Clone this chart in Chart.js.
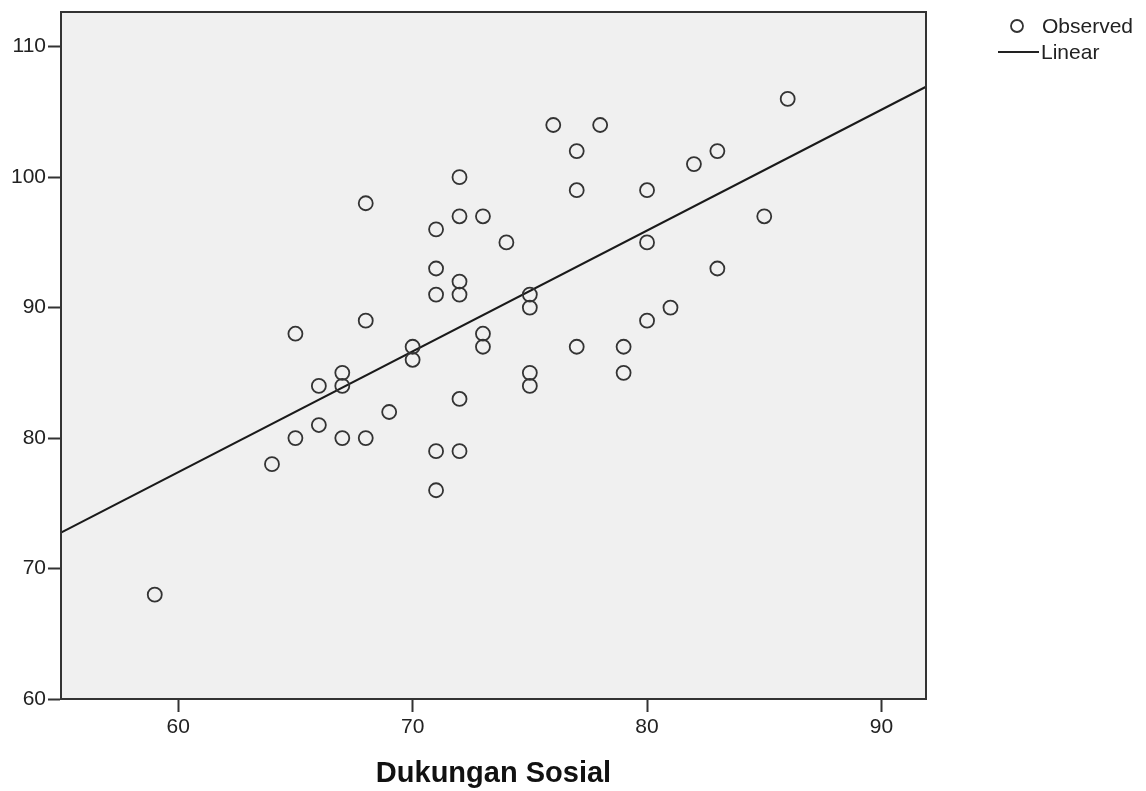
<!DOCTYPE html>
<html>
<head>
<meta charset="utf-8">
<script src="https://cdn.jsdelivr.net/npm/chart.js@4/dist/chart.umd.min.js"></script>
<style>
  html, body { margin: 0; padding: 0; background: #ffffff; }
  canvas { display: block; }
</style>
</head>
<body>
<canvas id="c" width="1146" height="791"></canvas>
<script>
// Observed values (Dukungan Sosial on x, dependent variable on y)
const obsX = [59, 64, 65, 65, 66, 66, 67, 67, 67, 68, 68, 68, 69, 70, 70,
              71, 71, 71, 71, 71, 72, 72, 72, 72, 72, 72, 73, 73, 73, 74,
              75, 75, 75, 75, 76, 77, 77, 77, 78, 79, 79, 80, 80, 80, 81,
              82, 83, 83, 85, 86];
const obsY = [68, 78, 80, 88, 81, 84, 80, 84, 85, 80, 89, 98, 82, 86, 87,
              76, 79, 91, 93, 96, 79, 83, 91, 92, 97, 100, 87, 88, 97, 95,
              84, 85, 90, 91, 104, 87, 99, 102, 104, 85, 87, 89, 95, 99, 90,
              101, 93, 102, 97, 106];
// Linear fit line endpoints
const fitX = [55, 91.9];
const fitY = [72.76, 106.93];
// Axis ticks
const xTicks = [60, 70, 80, 90];
const yTicks = [60, 70, 80, 90, 100, 110];
const xTitle = 'Dukungan Sosial';
const legendLabels = ['Observed', 'Linear'];

const ink = '#333333';
const fam = 'Arial, "Liberation Sans", sans-serif';

const frame = {
  id: 'frame',
  beforeDatasetsDraw(chart) {
    const { ctx, chartArea: a } = chart;
    ctx.save();
    ctx.fillStyle = '#f0f0f0';
    ctx.fillRect(a.left, a.top, a.right - a.left, a.bottom - a.top);
    ctx.restore();
  },
  afterDraw(chart) {
    const { ctx, chartArea: a } = chart;
    ctx.save();
    ctx.strokeStyle = ink;
    ctx.lineWidth = 2;
    ctx.strokeRect(a.left, a.top, a.right - a.left, a.bottom - a.top);
    // legend
    ctx.fillStyle = '#222';
    ctx.font = '21px ' + fam;
    ctx.textBaseline = 'middle';
    ctx.textAlign = 'left';
    ctx.lineWidth = 1.8;
    ctx.strokeStyle = ink;
    ctx.beginPath();
    ctx.arc(1017, 26, 6, 0, Math.PI * 2);
    ctx.stroke();
    ctx.fillText(legendLabels[0], 1042, 27);
    ctx.lineWidth = 2;
    ctx.strokeStyle = '#222';
    ctx.beginPath();
    ctx.moveTo(998, 52);
    ctx.lineTo(1039, 52);
    ctx.stroke();
    ctx.fillText(legendLabels[1], 1041, 53);
    ctx.restore();
  }
};

new Chart(document.getElementById('c'), {
  data: {
    datasets: [
      {
        type: 'scatter',
        label: legendLabels[0],
        data: obsX.map((x, i) => ({ x, y: obsY[i] })),
        pointStyle: 'circle',
        pointRadius: 7,
        pointHoverRadius: 7,
        borderWidth: 1.8,
        borderColor: ink,
        backgroundColor: 'rgba(0,0,0,0)'
      },
      {
        type: 'line',
        label: legendLabels[1],
        data: fitX.map((x, i) => ({ x, y: fitY[i] })),
        borderColor: '#1a1a1a',
        borderWidth: 2,
        pointRadius: 0,
        fill: false,
        tension: 0
      }
    ]
  },
  options: {
    responsive: false,
    devicePixelRatio: 1,
    animation: false,
    layout: { padding: { left: 0, top: 12, right: 220, bottom: 0 } },
    plugins: { legend: { display: false }, tooltip: { enabled: false } },
    scales: {
      x: {
        type: 'linear',
        position: 'bottom',
        min: 55,
        max: 91.9,
        afterBuildTicks(scale) { scale.ticks = xTicks.map(v => ({ value: v })); },
        afterFit(scale) { scale.height = 92; },
        grid: { drawOnChartArea: false, drawTicks: true, tickLength: 13, tickColor: ink, tickWidth: 2 },
        border: { display: true, color: ink, width: 2 },
        ticks: { color: '#222', font: { family: fam, size: 21 }, padding: 3, maxRotation: 0, autoSkip: false },
        title: {
          display: true,
          text: xTitle,
          color: '#111',
          font: { family: fam, size: 29, weight: 'bold' },
          padding: { top: 0, bottom: 0 }
        }
      },
      y: {
        type: 'linear',
        min: 60,
        max: 112.66,
        afterBuildTicks(scale) { scale.ticks = yTicks.map(v => ({ value: v })); },
        afterFit(scale) { scale.width = 61; scale.paddingTop = 0; scale.paddingBottom = 0; },
        grid: { drawOnChartArea: false, drawTicks: true, tickLength: 13, tickColor: ink, tickWidth: 2 },
        border: { display: true, color: ink, width: 2 },
        ticks: { color: '#222', font: { family: fam, size: 21, lineHeight: 1 }, padding: 2, autoSkip: false }
      }
    }
  },
  plugins: [frame]
});
</script>
</body>
</html>
